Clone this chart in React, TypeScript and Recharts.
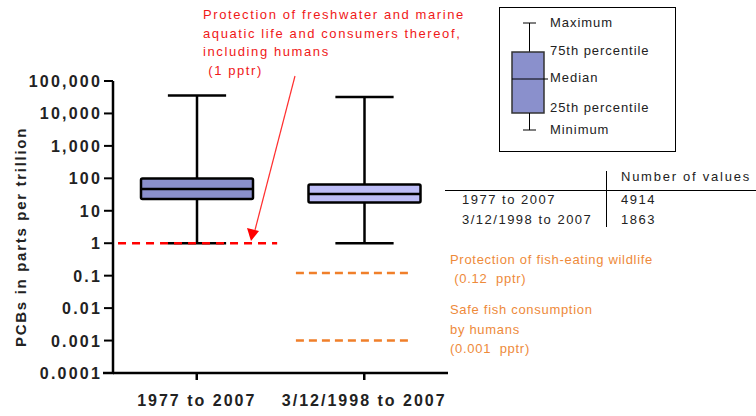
import React from 'react'
import { ComposedChart, Bar, XAxis, YAxis, ReferenceLine } from 'recharts'

// box plot summary per period (parts per trillion)
const periods = ['1977 to 2007', '3/12/1998 to 2007']
const minimum = [1, 1]
const q1 = [23, 18]
const median = [47, 33]
const q3 = [98, 64]
const maximum = [36000, 32000]
const counts = [4914, 1863]
const boxFills = ['#8A90CC', '#BDBDF7']

const yTicks = [0.0001, 0.001, 0.01, 0.1, 1, 10, 100, 1000, 10000, 100000]
const yTickLabels = ['0.0001', '0.001', '0.01', '0.1', '1', '10', '100', '1,000', '10,000', '100,000']

// guideline values and where they run, as a fraction of the plot width
const freshwaterLimit = 1
const wildlifeLimit = 0.12
const fishConsumptionLimit = 0.001
const freshwaterSpan = [0.015, 0.49]
const orangeSpan = [0.546, 0.887]

const FONT = '"Liberation Sans", Arial, sans-serif'
const RED = '#F01818'
const ORANGE = '#F07F2A'
const ORANGE_TEXT = '#EE8A3A'

const rows = periods.map((name, i) => ({
  name,
  range: [minimum[i], maximum[i]],
  min: minimum[i],
  q1: q1[i],
  median: median[i],
  q3: q3[i],
  max: maximum[i],
  fill: boxFills[i],
}))

const BoxShape = (props: any) => {
  const { x, y, width, height, payload } = props
  const lo = Math.log10(payload.min)
  const hi = Math.log10(payload.max)
  const py = (v: number) => y + (height * (hi - Math.log10(v))) / (hi - lo)
  const cx = x + width / 2
  const cap = width * 0.26
  const s = { stroke: '#000', strokeWidth: 2.5 }
  return (
    <g>
      <line x1={cx} x2={cx} y1={py(payload.max)} y2={py(payload.q3)} {...s} />
      <line x1={cx} x2={cx} y1={py(payload.q1)} y2={py(payload.min)} {...s} />
      <line x1={cx - cap} x2={cx + cap} y1={py(payload.max)} y2={py(payload.max)} {...s} />
      <line x1={cx - cap} x2={cx + cap} y1={py(payload.min)} y2={py(payload.min)} {...s} />
      <rect x={x} y={py(payload.q3)} width={width} height={py(payload.q1) - py(payload.q3)} fill={payload.fill} {...s} rx={1.5} />
      <line x1={x} x2={x + width} y1={py(payload.median)} y2={py(payload.median)} {...s} />
    </g>
  )
}

const YTick = (props: any) => {
  const { x, y, payload } = props
  const i = yTicks.indexOf(payload.value)
  return (
    <text x={x + 2} y={y} dy={6} textAnchor="end" fontFamily={FONT} fontWeight="bold" fontSize={16} letterSpacing={2.2} fill="#222">
      {yTickLabels[i]}
    </text>
  )
}

const XTick = (props: any) => {
  const { x, y, payload } = props
  return (
    <text x={x} y={y} dy={12} textAnchor="middle" fontFamily={FONT} fontWeight="bold" fontSize={16} letterSpacing={2} fill="#222">
      {payload.value}
    </text>
  )
}

const txt = (extra: React.CSSProperties): React.CSSProperties => ({
  position: 'absolute',
  fontFamily: FONT,
  fontSize: 13,
  letterSpacing: 1.2,
  whiteSpace: 'nowrap',
  lineHeight: '19px',
  ...extra,
})

export default function App() {
  return (
    <div style={{ position: 'absolute', left: 0, top: 0, width: 756, height: 416, background: '#fff', overflow: 'hidden' }}>
      <ComposedChart width={756} height={416} data={rows} margin={{ top: 81, right: 308, bottom: 13, left: 13 }} barSize={112}>
        <XAxis dataKey="name" tick={<XTick />} tickSize={7} tickMargin={14} axisLine={{ stroke: '#000', strokeWidth: 2.5 }} tickLine={{ stroke: '#000', strokeWidth: 2.5 }} interval={0} />
        <XAxis xAxisId="n" type="number" domain={[0, 1]} allowDataOverflow hide />
        <YAxis
          scale="log"
          domain={[0.0001, 100000]}
          ticks={yTicks}
          allowDataOverflow
          width={100}
          tick={<YTick />}
          tickSize={9}
          tickMargin={4}
          axisLine={{ stroke: '#000', strokeWidth: 2.5 }}
          tickLine={{ stroke: '#000', strokeWidth: 2 }}
          interval={0}
        />
        <ReferenceLine xAxisId="n" ifOverflow="visible" segment={[{ x: freshwaterSpan[0], y: freshwaterLimit }, { x: freshwaterSpan[1], y: freshwaterLimit }]} stroke="#FF0000" strokeWidth={2.5} strokeDasharray="8 6" />
        <ReferenceLine xAxisId="n" ifOverflow="visible" segment={[{ x: orangeSpan[0], y: wildlifeLimit }, { x: orangeSpan[1], y: wildlifeLimit }]} stroke={ORANGE} strokeWidth={2.5} strokeDasharray="8 5" />
        <ReferenceLine xAxisId="n" ifOverflow="visible" segment={[{ x: orangeSpan[0], y: fishConsumptionLimit }, { x: orangeSpan[1], y: fishConsumptionLimit }]} stroke={ORANGE} strokeWidth={2.5} strokeDasharray="8 5" />
        <Bar dataKey="range" shape={<BoxShape />} isAnimationActive={false} />
      </ComposedChart>

      {/* axis title */}
      <div style={{ position: 'absolute', left: 20, top: 237, transform: 'translate(-50%, -50%) rotate(-90deg)', fontFamily: FONT, fontWeight: 'bold', fontSize: 15, letterSpacing: 1.7, whiteSpace: 'nowrap', color: '#222' }}>
        PCBs in parts per trillion
      </div>

      <svg width={756} height={416} style={{ position: 'absolute', left: 0, top: 0, pointerEvents: 'none' }}>
        <line x1={103} x2={114} y1={373} y2={373} stroke="#000" strokeWidth={2.5} />
        {/* arrow to freshwater guideline */}
        <line x1={295} y1={76} x2={255} y2={230} stroke="#FF3030" strokeWidth={1.2} />
        <polygon points="247,228 259,231 251,241" fill="#FF0000" />
        {/* legend box */}
        <rect x={499.5} y={7.5} width={176} height={144} fill="none" stroke="#000" strokeWidth={1} />
        <line x1={523} x2={536} y1={23} y2={23} stroke="#000" />
        <line x1={529.5} x2={529.5} y1={23} y2={52} stroke="#000" />
        <rect x={512} y={52} width={32} height={61} fill="#8A90CC" stroke="#333" strokeWidth={1.5} />
        <line x1={512} x2={548} y1={79} y2={79} stroke="#000" />
        <line x1={529.5} x2={529.5} y1={113} y2={130} stroke="#000" />
        <line x1={523} x2={536} y1={130} y2={130} stroke="#000" />
        {/* number-of-values table */}
        <line x1={445} x2={756} y1={190.5} y2={190.5} stroke="#000" />
        <line x1={606.5} x2={606.5} y1={171} y2={227} stroke="#000" />
      </svg>

      <div style={txt({ left: 550, top: 13, color: '#222', letterSpacing: 0.95 })}>Maximum</div>
      <div style={txt({ left: 550, top: 41, color: '#222', letterSpacing: 0.95 })}>75th percentile</div>
      <div style={txt({ left: 550, top: 68, color: '#222', letterSpacing: 0.95 })}>Median</div>
      <div style={txt({ left: 550, top: 98, color: '#222', letterSpacing: 0.95 })}>25th percentile</div>
      <div style={txt({ left: 550, top: 120, color: '#222', letterSpacing: 0.95 })}>Minimum</div>

      <div style={txt({ left: 621, top: 167, color: '#222', letterSpacing: 1.75 })}>Number of values</div>
      {periods.map((p, i) => (
        <React.Fragment key={p}>
          <div style={txt({ left: 462, top: 190 + i * 20, color: '#222', letterSpacing: 1.5 })}>{p}</div>
          <div style={txt({ left: 621, top: 190 + i * 20, color: '#222', letterSpacing: 1.5 })}>{counts[i]}</div>
        </React.Fragment>
      ))}

      <div style={txt({ left: 203, top: 6, color: RED, lineHeight: '18.7px', letterSpacing: 1.6 })}>
        Protection of freshwater and marine
        <br />
        aquatic life and consumers thereof,
        <br />
        including humans
        <br />
        &nbsp;(1 pptr)
      </div>

      <div style={txt({ left: 450, top: 250, color: ORANGE_TEXT, lineHeight: '19px', letterSpacing: 0.7 })}>
        Protection of fish-eating wildlife
        <br />
        &nbsp;(0.12&nbsp; pptr)
      </div>
      <div style={txt({ left: 450, top: 300, color: ORANGE_TEXT, lineHeight: '19.5px', letterSpacing: 0.7 })}>
        Safe fish consumption
        <br />
        by humans
        <br />
        (0.001&nbsp; pptr)
      </div>
    </div>
  )
}
